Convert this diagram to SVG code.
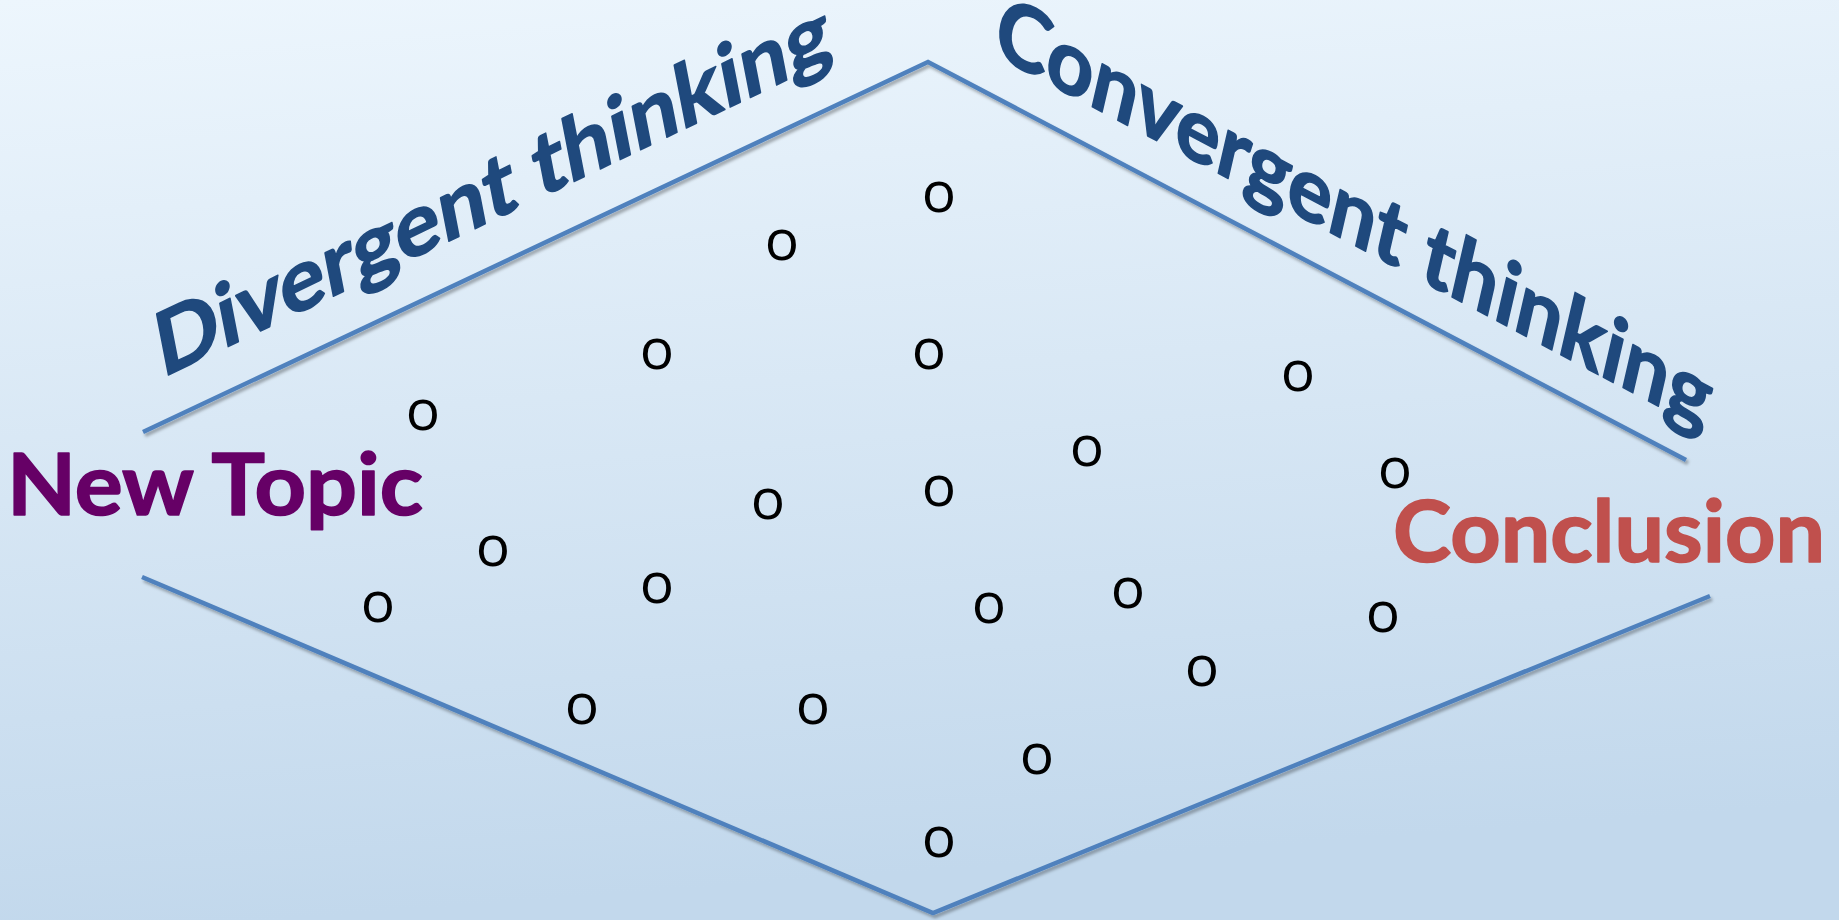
<svg xmlns="http://www.w3.org/2000/svg" width="1839" height="920" viewBox="0 0 1839 920">
  <defs>
    <linearGradient id="bg" x1="0" y1="0" x2="0.15" y2="1">
      <stop offset="0" stop-color="#edf6fd"/>
      <stop offset="1" stop-color="#c2d8ec"/>
    </linearGradient>
    <filter id="shadow" x="-5%" y="-5%" width="110%" height="115%">
      <feDropShadow dx="2" dy="3" stdDeviation="1.8" flood-color="#000" flood-opacity="0.3"/>
    </filter>
  </defs>
  <style>
    .edge { fill: none; stroke: #4f81bd; stroke-width: 4.5; stroke-linejoin: miter; filter: url(#shadow); }
    .title { font-family: Lato, "Open Sans", "Liberation Sans", sans-serif; font-weight: 700; font-size: 86px; stroke-width: 1.6; stroke-linejoin: round; }
    .blue { fill: #1f497d; stroke: #1f497d; }
    .purple { fill: #660066; stroke: #660066; }
    .red { fill: #c0504d; stroke: #c0504d; }
    .idea { font-family: "Open Sans", "Liberation Sans", sans-serif; font-size: 57px; fill: #000; text-anchor: middle; }
  </style>
  <rect x="0" y="0" width="1839" height="920" fill="url(#bg)"/>

  <g id="connectors">
    <polyline class="edge" points="143,432 928,62 1686,460"/>
    <polyline class="edge" points="142,577 933,913 1710,596"/>
  </g>

  <g id="divergent-label">
    <text class="title blue" transform="translate(162,378) rotate(-11) skewY(-14.5)" x="0" y="0" textLength="721" lengthAdjust="spacingAndGlyphs">Divergent thinking</text>
  </g>

  <g id="convergent-label">
    <text class="title blue" transform="translate(991,53) rotate(13) skewY(14.9)" x="0" y="0" textLength="780" lengthAdjust="spacingAndGlyphs">Convergent thinking</text>
  </g>

  <g id="new-topic">
    <text class="title purple" x="7" y="515" textLength="416" lengthAdjust="spacingAndGlyphs">New Topic</text>
  </g>

  <g id="conclusion">
    <text class="title red" x="1393" y="562" textLength="432" lengthAdjust="spacingAndGlyphs">Conclusion</text>
  </g>

  <g id="ideas">
    <text class="idea" x="939" y="212">o</text>
    <text class="idea" x="782" y="260">o</text>
    <text class="idea" x="657" y="369">o</text>
    <text class="idea" x="929" y="369">o</text>
    <text class="idea" x="1298" y="391">o</text>
    <text class="idea" x="423" y="430">o</text>
    <text class="idea" x="1087" y="466">o</text>
    <text class="idea" x="1395" y="488">o</text>
    <text class="idea" x="768" y="519">o</text>
    <text class="idea" x="939" y="506">o</text>
    <text class="idea" x="493" y="566">o</text>
    <text class="idea" x="378" y="622">o</text>
    <text class="idea" x="657" y="603">o</text>
    <text class="idea" x="989" y="623">o</text>
    <text class="idea" x="1128" y="608">o</text>
    <text class="idea" x="1383" y="632">o</text>
    <text class="idea" x="1202" y="686">o</text>
    <text class="idea" x="582" y="724">o</text>
    <text class="idea" x="813" y="724">o</text>
    <text class="idea" x="1037" y="774">o</text>
    <text class="idea" x="939" y="857">o</text>
  </g>
</svg>
